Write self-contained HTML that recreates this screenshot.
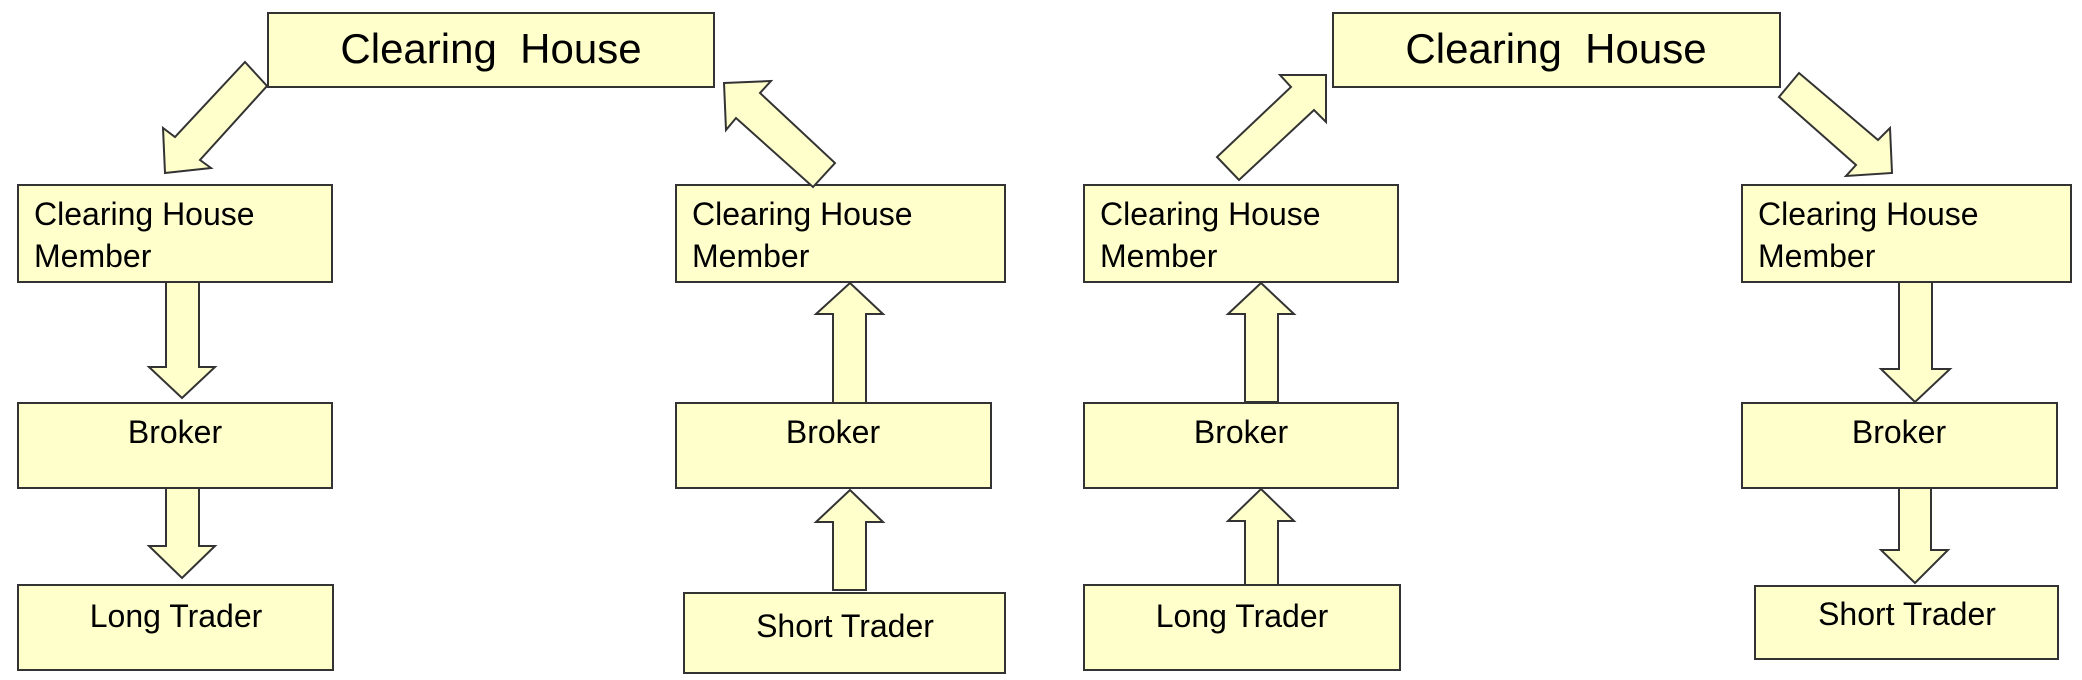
<!DOCTYPE html>
<html><head><meta charset="utf-8"><style>
html,body{margin:0;padding:0;background:#fff;}
svg{display:block;}
text{font-family:"Liberation Sans",Arial,sans-serif;fill:#000;}
</style></head><body>
<svg width="2082" height="680" viewBox="0 0 2082 680" xmlns="http://www.w3.org/2000/svg">
<g fill="#ffffcc" stroke="#333" stroke-width="2">
<!-- left half -->
<rect x="268" y="13" width="446" height="74"/>
<rect x="18" y="185" width="314" height="97"/>
<rect x="18" y="403" width="314" height="85"/>
<rect x="18" y="585" width="315" height="85"/>
<rect x="676" y="185" width="329" height="97"/>
<rect x="676" y="403" width="315" height="85"/>
<rect x="684" y="593" width="321" height="80"/>
<polygon points="245,62 267,86 200,160 211,168 165,173 163,128 175,137"/>
<polygon points="724,83 771,81 760,93 835,163 813,187 736,118 726,130"/>
<polygon points="166,282 199,282 199,367 215,367 182,398 149,367 166,367"/>
<polygon points="166,488 199,488 199,546 215,546 182,578 149,546 166,546"/>
<polygon points="833,403 866,403 866,314 883,314 850,283 816,314 833,314"/>
<polygon points="833,590 866,590 866,522 883,522 850,490 816,522 833,522"/>
<!-- right half -->
<rect x="1333" y="13" width="447" height="74"/>
<rect x="1084" y="185" width="314" height="97"/>
<rect x="1084" y="403" width="314" height="85"/>
<rect x="1084" y="585" width="316" height="85"/>
<rect x="1742" y="185" width="329" height="97"/>
<rect x="1742" y="403" width="315" height="85"/>
<rect x="1755" y="586" width="303" height="73"/>
<polygon points="1326,75 1326,122 1314,110 1239,180 1217,157 1291,87 1280,75"/>
<polygon points="1799,73 1878,140 1890,128 1892,173 1846,176 1856,165 1779,97"/>
<polygon points="1245,402 1278,402 1278,314 1294,314 1261,283 1228,314 1245,314"/>
<polygon points="1245,585 1278,585 1278,521 1294,521 1261,489 1228,521 1245,521"/>
<polygon points="1899,282 1932,282 1932,369 1950,369 1915,402 1881,369 1899,369"/>
<polygon points="1899,488 1931,488 1931,550 1948,550 1915,583 1881,550 1899,550"/>
</g>
<g font-size="32">
<text x="491" y="63" font-size="42" text-anchor="middle" xml:space="preserve">Clearing  House</text>
<text x="34" y="225">Clearing House</text><text x="34" y="267">Member</text>
<text x="175" y="443" text-anchor="middle">Broker</text>
<text x="176" y="627" text-anchor="middle">Long Trader</text>
<text x="692" y="225">Clearing House</text><text x="692" y="267">Member</text>
<text x="833" y="443" text-anchor="middle">Broker</text>
<text x="845" y="637" text-anchor="middle">Short Trader</text>

<text x="1556" y="63" font-size="42" text-anchor="middle" xml:space="preserve">Clearing  House</text>
<text x="1100" y="225">Clearing House</text><text x="1100" y="267">Member</text>
<text x="1241" y="443" text-anchor="middle">Broker</text>
<text x="1242" y="627" text-anchor="middle">Long Trader</text>
<text x="1758" y="225">Clearing House</text><text x="1758" y="267">Member</text>
<text x="1899" y="443" text-anchor="middle">Broker</text>
<text x="1907" y="625" text-anchor="middle">Short Trader</text>
</g>
</svg>
</body></html>
